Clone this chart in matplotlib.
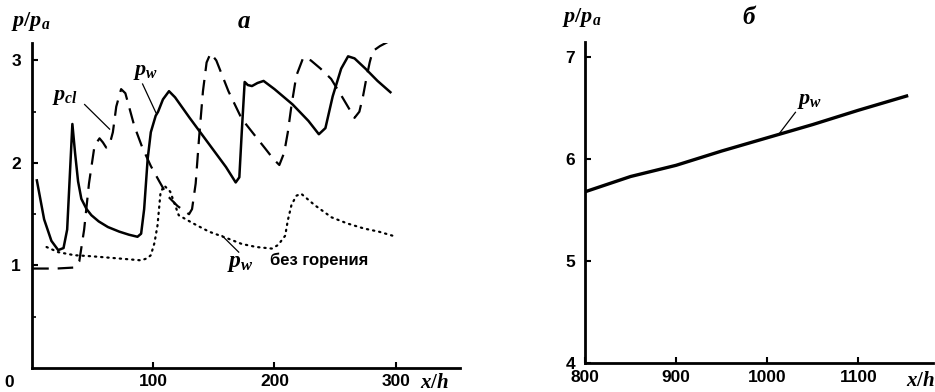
import numpy as np
import matplotlib.pyplot as plt
from matplotlib.transforms import blended_transform_factory

plt.rcParams['font.family'] = ['Liberation Sans', 'DejaVu Sans']
plt.rcParams['font.weight'] = 'bold'
plt.rcParams['mathtext.fontset'] = 'custom'
plt.rcParams['mathtext.it'] = 'Liberation Serif:italic:bold'
plt.rcParams['mathtext.rm'] = 'Liberation Serif:bold'

# panel a: solid p_w
pw_x = [4, 10, 16, 21.6, 26, 29, 31.5, 33.3, 35.5, 38, 40.7, 45, 49, 55, 62.6, 72, 80, 87, 90,
        92.5, 95.4, 98, 102, 104, 108, 113, 118, 130, 145, 160, 168, 171, 173, 175.4, 178, 181.4,
        186, 191, 200, 215, 228, 236.6, 242, 248, 255, 260.7, 266, 275, 285, 295.6]
pw_y = [1.83, 1.45, 1.24, 1.15, 1.17, 1.35, 1.95, 2.38, 2.1, 1.82, 1.65, 1.55, 1.49, 1.43, 1.375, 1.33, 1.3, 1.28, 1.31,
        1.55, 2.04, 2.3, 2.46, 2.5, 2.62, 2.70, 2.64, 2.44, 2.2, 1.96, 1.81, 1.86, 2.3, 2.79, 2.76, 2.75,
        2.78, 2.80, 2.72, 2.57, 2.41, 2.28, 2.34, 2.65, 2.92, 3.04, 3.02, 2.92, 2.8, 2.69]

# panel a: dashed p_cl
pcl_x = [1, 20, 35, 39, 43, 47, 51.6, 55.7, 58.5, 61.2, 64, 66.7, 69.5, 73.5, 77, 84.4, 91, 98, 105, 111.7,
         120, 129.5, 132, 135, 137.7, 141, 144, 147.3, 152, 162, 173, 183, 192.4, 199, 204, 208, 211,
         214, 218, 223.8, 230, 238, 246.7, 256, 266, 270, 273, 275.7, 278.5, 281, 287, 293.4]
pcl_y = [0.97, 0.97, 0.98, 1.04, 1.35, 1.8, 2.17, 2.24, 2.2, 2.15, 2.18, 2.30, 2.55, 2.72, 2.68, 2.36, 2.15, 1.97, 1.82, 1.68,
         1.58, 1.50, 1.55, 1.8, 2.23, 2.7, 2.98, 3.07, 3.0, 2.7, 2.43, 2.28, 2.14, 2.04, 1.98, 2.1, 2.3,
         2.56, 2.85, 3.03, 3.0, 2.92, 2.82, 2.64, 2.44, 2.5, 2.65, 2.82, 2.98, 3.09, 3.14, 3.18]

# panel a: dotted p_w without combustion
nc_x = [12, 21.6, 35, 49, 70, 90, 95, 98, 101, 103.5, 106, 109, 114, 121, 133, 146, 160, 173,
        185, 197.8, 203, 208.8, 211, 214, 218, 222, 233, 247, 260, 274, 286, 297.5]
nc_y = [1.18, 1.13, 1.1, 1.09, 1.07, 1.05, 1.07, 1.10, 1.22, 1.39, 1.71, 1.78, 1.72, 1.49, 1.41, 1.33, 1.27, 1.21,
        1.18, 1.165, 1.2, 1.29, 1.44, 1.59, 1.68, 1.70, 1.59, 1.47, 1.41, 1.36, 1.33, 1.29]

# panel б: p_w
b_x = [800, 850, 900, 950, 1000, 1050, 1100, 1153]
b_y = [5.68, 5.83, 5.94, 6.08, 6.21, 6.34, 6.48, 6.62]

fig = plt.figure(figsize=(9.35, 3.92), dpi=100)
ax1 = fig.add_axes([32 / 935, 24 / 392, 428 / 935, 325 / 392])
ax2 = fig.add_axes([585 / 935, 29 / 392, 348 / 935, 321 / 392])

for ax in (ax1, ax2):
    for s in ('top', 'right'):
        ax.spines[s].set_visible(False)
    for s in ('left', 'bottom'):
        ax.spines[s].set_linewidth(2.0)
    ax.tick_params(direction='in', width=1.5, length=4, labelsize=12.5)
    ax.patch.set_alpha(0)

# --- panel a ---
ax1.plot(pw_x, pw_y, color='black', lw=1.8)
ax1.plot(pcl_x, pcl_y, color='black', lw=1.6, dashes=(7, 4))
ax1.plot(nc_x, nc_y, color='black', lw=1.6, linestyle=(0, (0.6, 2.2)), dash_capstyle='round')
ax1.set_xlim(0, 353)
ax1.set_ylim(0, 3.17)
ax1.set_xticks([100, 200, 300])
ax1.set_yticks([1, 2, 3])
ax1.set_yticks([0.5, 1.5, 2.5], minor=True)
ax1.tick_params(which='minor', direction='in', width=1.2, length=3)
ax1.tick_params(axis='y', pad=8)
ax1.tick_params(axis='x', pad=4)

tr1 = blended_transform_factory(ax1.transData, ax1.transAxes)
ax1.text(-19, -0.045, '0', transform=tr1, ha='center', va='center', fontsize=12.5)
ax1.text(332, -0.045, r'$x/h$', transform=tr1, ha='center', va='center', fontsize=15)
ax1.text(-0.05, 1.065, r'$p/p_a$', transform=ax1.transAxes, ha='left', va='center', fontsize=16)
ax1.text(0.495, 1.065, 'а', transform=ax1.transAxes, ha='center', va='center', fontsize=18,
         family='Liberation Serif', style='italic', weight='bold')

ax1.text(27, 2.65, r'$p_{cl}$', ha='center', va='center', fontsize=16)
ax1.plot([43.4, 64], [2.57, 2.33], color='black', lw=0.9)
ax1.text(93.4, 2.89, r'$p_w$', ha='center', va='center', fontsize=16)
ax1.plot([91.2, 102.2], [2.77, 2.49], color='black', lw=0.9)
ax1.plot([156.8, 170.5], [1.29, 1.13], color='black', lw=0.9)
ax1.text(172, 1.03, r'$p_w$', ha='center', va='center', fontsize=17)
ax1.text(196, 1.05, 'без горения', ha='left', va='center', fontsize=12, weight='bold')

# --- panel б ---
ax2.plot(b_x, b_y, color='black', lw=2.4)
ax2.set_xlim(800, 1182)
ax2.set_ylim(4, 7.15)
ax2.set_xticks([800, 900, 1000, 1100])
ax2.set_yticks([4, 5, 6, 7])
ax2.tick_params(axis='y', pad=7)
ax2.tick_params(axis='x', pad=5)

tr2 = blended_transform_factory(ax2.transData, ax2.transAxes)
ax2.text(1168, -0.055, r'$x/h$', transform=tr2, ha='center', va='center', fontsize=15)
ax2.text(-0.065, 1.075, r'$p/p_a$', transform=ax2.transAxes, ha='left', va='center', fontsize=16)
ax2.text(0.47, 1.075, 'б', transform=ax2.transAxes, ha='center', va='center', fontsize=18,
         family='Liberation Serif', style='italic', weight='bold')
ax2.plot([1014, 1031], [6.26, 6.46], color='black', lw=0.9)
ax2.text(1047, 6.58, r'$p_w$', ha='center', va='center', fontsize=16)

fig.savefig('out.png', dpi=100)
